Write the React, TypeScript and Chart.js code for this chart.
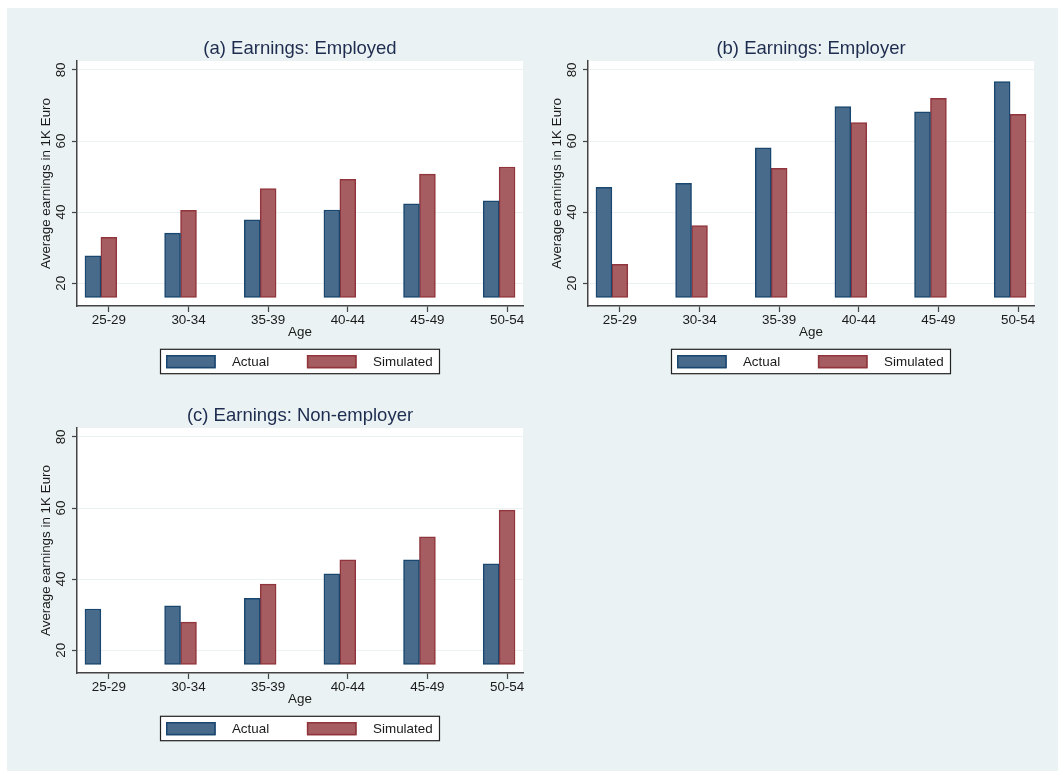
import React, { useEffect, useRef } from 'react';
import { Chart, registerables } from 'chart.js';

Chart.register(...registerables);

// ---------- data ----------
const AGE_GROUPS = ['25-29', '30-34', '35-39', '40-44', '45-49', '50-54'];
const Y_TICKS = [20, 40, 60, 80];
const SERIES_LABELS = ['Actual', 'Simulated'];

const EMPLOYED_ACTUAL = [27.7, 34.1, 37.8, 40.6, 42.3, 43.2];
const EMPLOYED_SIMULATED = [32.9, 40.5, 46.6, 49.2, 50.7, 52.7];

const EMPLOYER_ACTUAL = [47.0, 48.1, 58.1, 69.7, 68.2, 76.7];
const EMPLOYER_SIMULATED = [25.3, 36.2, 52.3, 65.2, 72.0, 67.5];

const NONEMPLOYER_ACTUAL = [31.6, 32.5, 34.6, 41.5, 45.4, 44.3];
const NONEMPLOYER_SIMULATED = [null, 27.9, 38.6, 45.4, 51.9, 59.4];

const BAR_BASE = 16;
const Y_MIN = 13.6;
const Y_MAX = 82.5;
const X_MIN = 0.6;
const X_MAX = 6.2;
const ACTUAL_SHIFT = -0.2;

// ---------- styles ----------
const FONT_FAMILY = '"Liberation Sans", Arial, Helvetica, sans-serif';
const BG = '#EAF2F3';
const TEXT = '#1a1a1a';
const TITLE_COLOR = '#1E2C4F';
const AXIS = '#444444';
const ACTUAL_FILL = 'rgb(72,107,139)';
const ACTUAL_EDGE = 'rgb(26,71,111)';
const SIM_FILL = 'rgb(166,93,98)';
const SIM_EDGE = 'rgb(144,53,59)';
const TEXT_SIZE = 13.4;

const decorPlugin = {
  id: 'panelDecor',
  beforeDraw(chart: any) {
    const { ctx, chartArea: a } = chart;
    ctx.save();
    ctx.fillStyle = '#ffffff';
    ctx.fillRect(a.left, a.top, a.right - a.left, a.bottom - a.top);
    ctx.restore();
  },
  afterDraw(chart: any) {
    const { ctx, chartArea: a, scales } = chart;
    const y = scales.y;
    ctx.save();
    ctx.font = `${TEXT_SIZE}px ${FONT_FAMILY}`;
    ctx.fillStyle = TEXT;
    ctx.textAlign = 'center';
    ctx.textBaseline = 'middle';
    for (const v of Y_TICKS) {
      const py = y.getPixelForValue(v);
      ctx.save();
      ctx.translate(a.left - 16, py);
      ctx.rotate(-Math.PI / 2);
      ctx.fillText(String(v), 0, 0);
      ctx.restore();
    }
    // legend box
    const cx = (a.left + a.right) / 2;
    const bw = 279;
    const bh = 24.4;
    const bx = cx - bw / 2;
    const by = a.bottom + 43.3;
    ctx.fillStyle = '#ffffff';
    ctx.fillRect(bx, by, bw, bh);
    ctx.strokeStyle = '#222222';
    ctx.lineWidth = 1.2;
    ctx.strokeRect(bx, by, bw, bh);
    const swX = [5.5, 146.4];
    const txX = [71.4, 212.6];
    chart.data.datasets.forEach((ds: any, i: number) => {
      ctx.fillStyle = ds.backgroundColor;
      ctx.fillRect(bx + swX[i], by + 5.7, 49.7, 13.3);
      ctx.strokeStyle = ds.borderColor;
      ctx.lineWidth = 1.5;
      ctx.strokeRect(bx + swX[i] + 0.75, by + 5.7 + 0.75, 49.7 - 1.5, 13.3 - 1.5);
      ctx.fillStyle = TEXT;
      ctx.textAlign = 'left';
      ctx.textBaseline = 'middle';
      ctx.fillText(ds.label, bx + txX[i], by + bh / 2 + 0.5);
    });
    ctx.restore();
  },
};

type PanelProps = {
  title: string;
  actual: (number | null)[];
  simulated: (number | null)[];
  width: number;
  height: number;
  chartLeft: number;
  chartRight: number;
  left: number;
  top: number;
};

function Panel({ title, actual, simulated, width, height, chartLeft, chartRight, left, top }: PanelProps) {
  const ref = useRef<HTMLCanvasElement | null>(null);
  useEffect(() => {
    if (!ref.current) return;
    const font = { family: FONT_FAMILY, size: TEXT_SIZE, weight: 'normal' as const };
    const chart = new Chart(ref.current, {
      type: 'bar',
      data: {
        datasets: [
          {
            label: SERIES_LABELS[0],
            data: actual.map((v, i) => ({ x: i + 1 + ACTUAL_SHIFT, y: v })) as any,
            backgroundColor: ACTUAL_FILL,
            borderColor: ACTUAL_EDGE,
            borderWidth: 1.5,
            borderSkipped: false,
            base: BAR_BASE,
            grouped: false,
            barPercentage: 1,
            categoryPercentage: 1,
          } as any,
          {
            label: SERIES_LABELS[1],
            data: simulated.map((v, i) => ({ x: i + 1, y: v })) as any,
            backgroundColor: SIM_FILL,
            borderColor: SIM_EDGE,
            borderWidth: 1.5,
            borderSkipped: false,
            base: BAR_BASE,
            grouped: false,
            barPercentage: 1,
            categoryPercentage: 1,
          } as any,
        ],
      },
      options: {
        animation: false,
        responsive: false,
        layout: { padding: { left: 0, right: width - chartRight, top: 29.5, bottom: 33 } },
        plugins: {
          legend: { display: false },
          tooltip: { enabled: false },
          title: {
            display: true,
            text: title,
            fullSize: false,
            color: TITLE_COLOR,
            font: { family: FONT_FAMILY, size: 18.5, weight: 'normal', lineHeight: 1.2 },
            padding: { top: 0, bottom: 1.3 },
          },
        },
        scales: {
          x: {
            type: 'linear',
            min: X_MIN,
            max: X_MAX,
            offset: false,
            afterBuildTicks: (s: any) => {
              s.ticks = AGE_GROUPS.map((_, i) => ({ value: i + 1 }));
            },
            afterFit: (s: any) => {
              s.height = 36;
              s.paddingLeft = 0;
              s.paddingRight = 0;
            },
            ticks: {
              callback: (v: any) => AGE_GROUPS[Math.round(Number(v)) - 1] ?? '',
              font,
              color: TEXT,
              padding: 0,
              maxRotation: 0,
              minRotation: 0,
              autoSkip: false,
            },
            grid: { drawOnChartArea: false, offset: false, tickLength: 6, tickColor: AXIS, tickWidth: 1.2 },
            border: { color: AXIS, width: 1.5 },
            title: { display: true, text: 'Age', font, color: TEXT, padding: { top: 0, bottom: 1.2 } },
          } as any,
          y: {
            min: Y_MIN,
            max: Y_MAX,
            afterBuildTicks: (s: any) => {
              s.ticks = Y_TICKS.map((v) => ({ value: v }));
            },
            afterFit: (s: any) => {
              s.width = chartLeft;
              s.paddingTop = 0;
              s.paddingBottom = 0;
            },
            ticks: { display: false },
            grid: { color: BG, tickColor: AXIS, tickLength: 5, lineWidth: 1, tickWidth: 1.2 },
            border: { color: AXIS, width: 1.5 },
            title: {
              display: true,
              text: 'Average earnings in 1K Euro',
              font,
              color: TEXT,
              padding: { top: chartLeft - 39, bottom: 0 },
            },
          } as any,
        },
      },
      plugins: [decorPlugin],
    });
    return () => chart.destroy();
  }, []);
  return (
    <canvas
      ref={ref}
      width={width}
      height={height}
      style={{ position: 'absolute', left, top, width, height }}
    />
  );
}

export default function App() {
  return (
    <div
      style={{
        position: 'fixed',
        left: 7,
        top: 8,
        width: 1051,
        height: 763,
        background: BG,
        overflow: 'hidden',
      }}
    >
      <Panel
        title="(a) Earnings: Employed"
        actual={EMPLOYED_ACTUAL}
        simulated={EMPLOYED_SIMULATED}
        width={520}
        height={367}
        chartLeft={70}
        chartRight={516}
        left={0}
        top={0}
      />
      <Panel
        title="(b) Earnings: Employer"
        actual={EMPLOYER_ACTUAL}
        simulated={EMPLOYER_SIMULATED}
        width={531}
        height={367}
        chartLeft={61}
        chartRight={507}
        left={520}
        top={0}
      />
      <Panel
        title="(c) Earnings: Non-employer"
        actual={NONEMPLOYER_ACTUAL}
        simulated={NONEMPLOYER_SIMULATED}
        width={520}
        height={367}
        chartLeft={70}
        chartRight={516}
        left={0}
        top={367}
      />
    </div>
  );
}
